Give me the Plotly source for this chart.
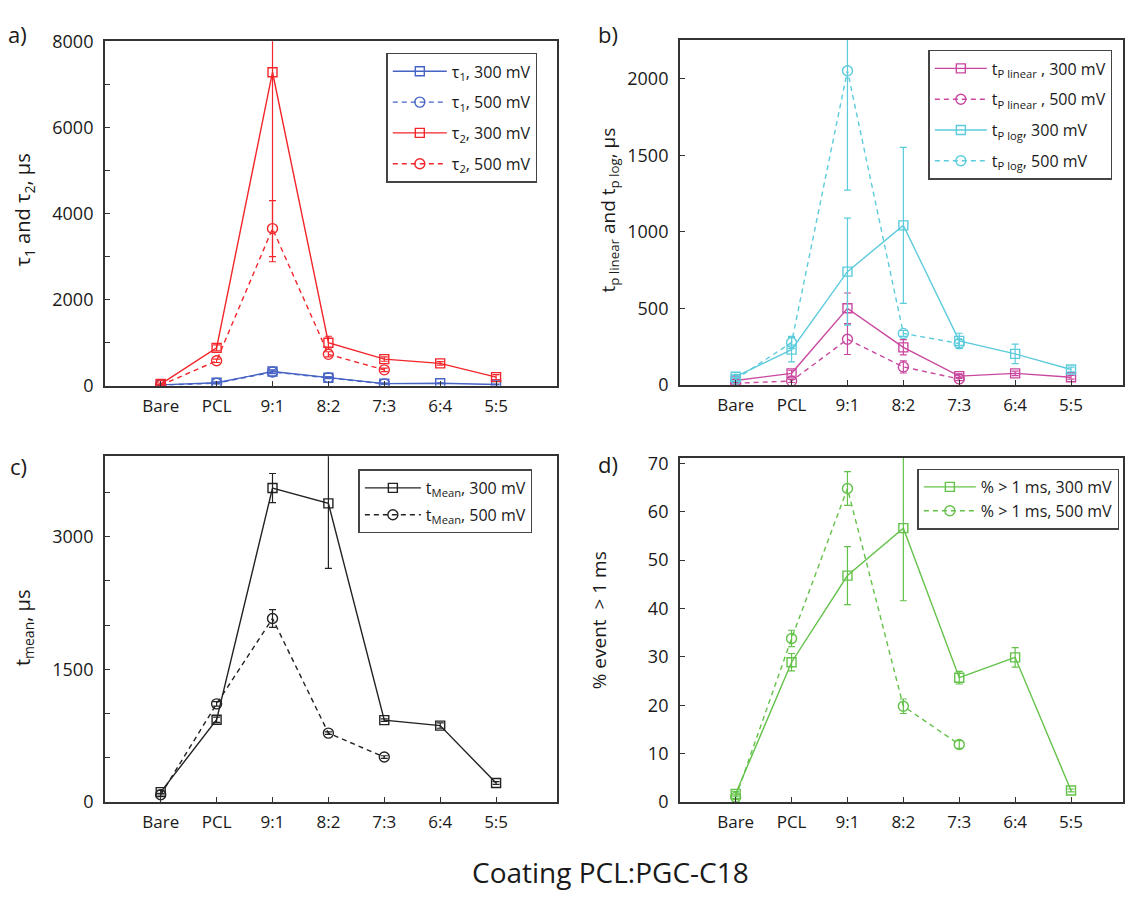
import plotly.graph_objects as go

W, H = 1125, 899
FONT = "Open Sans"

categories = ["Bare", "PCL", "9:1", "8:2", "7:3", "6:4", "5:5"]
cat_500 = categories[:5]

# a) relaxation times tau1 / tau2 (µs)
tau1_300 = [20, 70, 330, 185, 50, 60, 30]
tau1_300_err = [10, 20, 40, 20, 10, 10, 10]
tau1_500 = [15, 60, 320, 190, 45]
tau1_500_err = [10, 15, 40, 20, 10]
tau2_300 = [40, 880, 7280, 1000, 620, 520, 200]
tau2_300_err = [20, 70, 4400, 150, 50, 40, 60]
tau2_500 = [10, 580, 3650, 730, 370]
tau2_500_err = [10, 40, 650, 60, 40]

# b) peak times from linear and log histograms (µs)
tplin_300 = [28, 75, 500, 245, 57, 75, 49]
tplin_300_err = [8, 20, 100, 50, 15, 15, 12]
tplin_500 = [10, 25, 298, 117, 38]
tplin_500_err = [5, 10, 100, 40, 10]
tplog_300 = [53, 230, 740, 1042, 287, 202, 100]
tplog_300_err = [10, 80, 350, 510, 50, 64, 15]
tplog_500 = [36, 277, 2053, 336, 270]
tplog_500_err = [10, 40, 780, 20, 25]

# c) mean dwell time (µs)
tmean_300 = [110, 929, 3551, 3378, 925, 863, 213]
tmean_300_err = [20, 30, 165, 735, 15, 30, 15]
tmean_500 = [81, 1109, 2075, 778, 507]
tmean_500_err = [15, 25, 100, 15, 15]

# d) share of events longer than 1 ms (%)
pct_300 = [1.7, 28.9, 46.8, 56.6, 25.7, 29.9, 2.4]
pct_300_err = [0.5, 1.8, 6, 15, 1.3, 2, 0.3]
pct_500 = [1.0, 33.8, 64.8, 19.8, 11.9]
pct_500_err = [0.5, 1.7, 3.5, 1.5, 0.8]

BLUE = "#4763c4"
RED = "#f2262b"
MAGENTA = "#c9489f"
CYAN = "#5ccbdc"
BLACK = "#222222"
GREEN = "#64c24a"
FRAME = "#333333"


def px_x(p):
    return p / W


def px_y(p):
    return 1 - p / H


fig = go.Figure()


def add_series(x, y, err, color, dashed, name, xa, ya, legend):
    fig.add_trace(go.Scatter(
        x=x, y=y, name=name, mode="lines+markers",
        xaxis=xa, yaxis=ya, legend=legend, legendgroup=name,
        line=dict(color=color, width=1.4, dash="5px,4px" if dashed else "solid"),
        marker=dict(symbol="circle-open" if dashed else "square-open",
                    size=10 if dashed else 9, color=color,
                    line=dict(width=1.4, color=color)),
        error_y=dict(type="data", array=err, visible=True, color=color,
                     thickness=1.2, width=3.5),
    ))


# panel a
add_series(categories, tau1_300, tau1_300_err, BLUE, False, "τ<sub>1</sub>, 300 mV", "x", "y", "legend")
add_series(cat_500, tau1_500, tau1_500_err, BLUE, True, "τ<sub>1</sub>, 500 mV", "x", "y", "legend")
add_series(categories, tau2_300, tau2_300_err, RED, False, "τ<sub>2</sub>, 300 mV", "x", "y", "legend")
add_series(cat_500, tau2_500, tau2_500_err, RED, True, "τ<sub>2</sub>, 500 mV", "x", "y", "legend")

# panel b
add_series(categories, tplin_300, tplin_300_err, MAGENTA, False, "t<sub>P linear</sub> , 300 mV", "x2", "y2", "legend2")
add_series(cat_500, tplin_500, tplin_500_err, MAGENTA, True, "t<sub>P linear</sub> , 500 mV", "x2", "y2", "legend2")
add_series(categories, tplog_300, tplog_300_err, CYAN, False, "t<sub>P log</sub>, 300 mV", "x2", "y2", "legend2")
add_series(cat_500, tplog_500, tplog_500_err, CYAN, True, "t<sub>P log</sub>, 500 mV", "x2", "y2", "legend2")

# panel c
add_series(categories, tmean_300, tmean_300_err, BLACK, False, "t<sub>Mean</sub>, 300 mV", "x3", "y3", "legend3")
add_series(cat_500, tmean_500, tmean_500_err, BLACK, True, "t<sub>Mean</sub>, 500 mV", "x3", "y3", "legend3")

# panel d
add_series(categories, pct_300, pct_300_err, GREEN, False, "% > 1 ms, 300 mV", "x4", "y4", "legend4")
add_series(cat_500, pct_500, pct_500_err, GREEN, True, "% > 1 ms, 500 mV", "x4", "y4", "legend4")

xtickfont = dict(family=FONT, size=17, color="#1a1a1a")
ytickfont = dict(family=FONT, size=18, color="#1a1a1a")


def xaxis(domain, rng, anchor):
    return dict(domain=domain, anchor=anchor, type="category",
                categoryorder="array", categoryarray=categories,
                range=rng, showgrid=False, zeroline=False,
                showline=True, linecolor=FRAME, linewidth=1.5, mirror=True,
                ticks="inside", ticklen=5, tickcolor=FRAME, tickwidth=1.2,
                tickfont=xtickfont, ticklabelstandoff=4)


def yaxis(domain, rng, dtick, minor, anchor):
    return dict(domain=domain, anchor=anchor, range=rng, dtick=dtick, tick0=0,
                showgrid=False, zeroline=False,
                showline=True, linecolor=FRAME, linewidth=1.5, mirror=True,
                ticks="inside", ticklen=5, tickcolor=FRAME, tickwidth=1.2,
                tickfont=ytickfont, ticklabelstandoff=6,
                minor=dict(dtick=minor, ticks="inside", ticklen=5,
                           tickcolor=FRAME, tickwidth=1.2) if minor else None)


left_dom = [px_x(105), px_x(558)]
right_dom = [px_x(681), 1.0]
top_dom = [px_y(383), px_y(29)]
bot_dom = [px_y(810.5), px_y(455.5)]


def legend_box(x, y, gap, itemwidth):
    return dict(x=px_x(x), y=px_y(y), xanchor="left", yanchor="top",
                font=dict(family=FONT, size=16, color="#1a1a1a"),
                bordercolor="#444444", borderwidth=1.5, bgcolor="white",
                tracegroupgap=gap, itemwidth=itemwidth)


fig.update_layout(
    width=W, height=H,
    margin=dict(l=0, r=0, t=0, b=0),
    paper_bgcolor="white", plot_bgcolor="white",
    font=dict(family=FONT, color="#1a1a1a"),
    xaxis=xaxis(left_dom, [-1, 7.09], "y"),
    yaxis=yaxis(top_dom, [0, 8000], 2000, 1000, "x"),
    xaxis2=xaxis(right_dom, [-1, 6.93], "y2"),
    yaxis2=yaxis([px_y(382), px_y(27.3)], [0, 2257], 500, None, "x2"),
    xaxis3=xaxis(left_dom, [-1, 7.09], "y3"),
    yaxis3=yaxis(bot_dom, [0, 3910], 1500, 500, "x3"),
    xaxis4=xaxis(right_dom, [-1, 6.93], "y4"),
    yaxis4=yaxis([px_y(810.7), px_y(456.7)], [0, 71.2], 10, None, "x4"),
    legend=legend_box(387, 41, 7, 54),
    legend2=legend_box(930, 38, 7, 52),
    legend3=legend_box(359, 469, 3, 56),
    legend4=legend_box(919, 468, 0, 52),
    showlegend=True,
)

annotations = [
    # panel letters
    dict(text="a)", x=px_x(6), y=px_y(22)),
    dict(text="b)", x=px_x(597), y=px_y(22)),
    dict(text="c)", x=px_x(8), y=px_y(465)),
    dict(text="d)", x=px_x(597), y=px_y(463)),
]
for a in annotations:
    a.update(xref="paper", yref="paper", xanchor="left", yanchor="middle",
             showarrow=False, font=dict(family=FONT, size=22, color="#1a1a1a"))

ytitles = [
    ("τ<sub>1</sub> and τ<sub>2</sub>, µs", 24, 202, 20),
    ("t<sub>p linear</sub> and t<sub>p log</sub>, µs", 610, 202, 19),
    ("t<sub>mean</sub>, µs", 23, 631, 20),
    ("% event  > 1 ms", 600, 624, 19),
]
for text, cx, cy, fs in ytitles:
    annotations.append(dict(text=text, x=px_x(cx), y=px_y(cy), xref="paper", yref="paper",
                            xanchor="center", yanchor="middle", textangle=-90,
                            showarrow=False, font=dict(family=FONT, size=fs, color="#1a1a1a")))

annotations.append(dict(text="Coating PCL:PGC-C18", x=px_x(612), y=px_y(883),
                        xref="paper", yref="paper", xanchor="center", yanchor="middle",
                        showarrow=False, font=dict(family=FONT, size=28, color="#1a1a1a")))

fig.update_layout(annotations=annotations)

fig.write_html("out.html")
